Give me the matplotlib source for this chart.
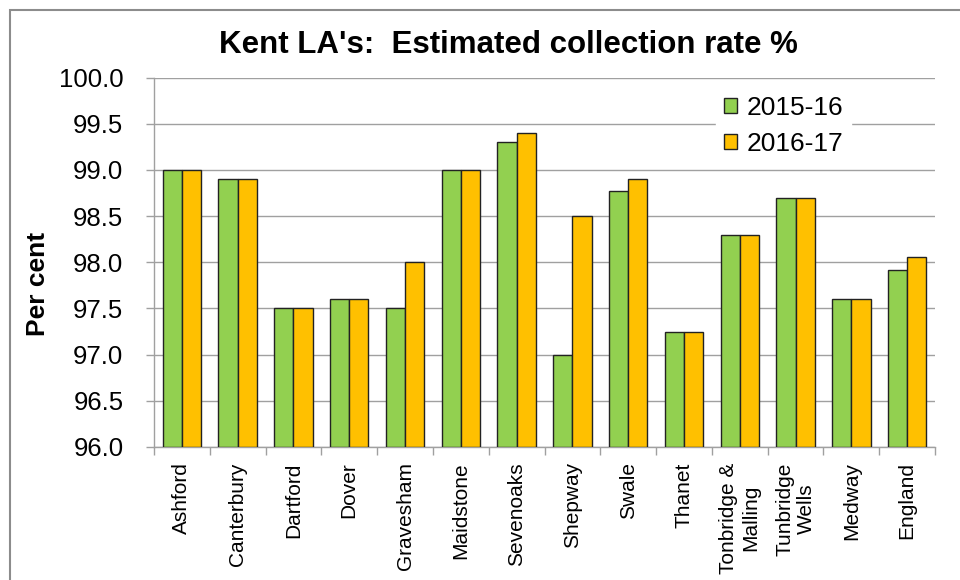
import matplotlib
matplotlib.use("Agg")
import matplotlib.pyplot as plt
import numpy as np

plt.rcParams['font.family'] = ['Liberation Sans', 'DejaVu Sans']

# data
areas = ["Ashford", "Canterbury", "Dartford", "Dover", "Gravesham", "Maidstone",
         "Sevenoaks", "Shepway", "Swale", "Thanet", "Tonbridge &\nMalling",
         "Tunbridge\nWells", "Medway", "England"]
rate_1516 = [99.0, 98.9, 97.5, 97.6, 97.5, 99.0, 99.3, 97.0, 98.77, 97.25, 98.3, 98.7, 97.6, 97.92]
rate_1617 = [99.0, 98.9, 97.5, 97.6, 98.0, 99.0, 99.4, 98.5, 98.9, 97.25, 98.3, 98.7, 97.6, 98.06]
yticks = [96.0, 96.5, 97.0, 97.5, 98.0, 98.5, 99.0, 99.5, 100.0]

green = "#92D050"
orange = "#FFC000"
grey = "#A0A0A0"

fig = plt.figure(figsize=(9.6, 5.8), dpi=100)
ax = fig.add_axes([154/960, 1-447/580, (935-154)/960, (447-77.5)/580])

# outer chart border (only top and left are visible in the original)
fig.patches.append(plt.Rectangle((10/960, -0.2), 1.5, 1.2 - 10/580, transform=fig.transFigure,
                                 fill=False, edgecolor="#8C8C8C", linewidth=1.5))

x = np.arange(len(areas))
w = 0.345
ax.bar(x - w/2, np.array(rate_1516) - 96, w, bottom=96, color=green, edgecolor="#222222",
       linewidth=1, label="2015-16", zorder=3)
ax.bar(x + w/2, np.array(rate_1617) - 96, w, bottom=96, color=orange, edgecolor="#222222",
       linewidth=1, label="2016-17", zorder=3)

ax.set_ylim(96, 100)
ax.set_xlim(-0.5, len(areas) - 0.5)
ax.set_yticks(yticks)
ax.set_yticklabels([f"{v:.1f}" for v in yticks], fontsize=18.5)
ax.yaxis.grid(True, color=grey, linewidth=1, zorder=0)
ax.set_axisbelow(True)

ax.set_xticks(x)
ax.set_xticklabels(areas, rotation=90, fontsize=15, multialignment="center")
ax.set_xticks(np.arange(-0.5, len(areas)), minor=True)
ax.tick_params(axis="x", which="major", length=0, pad=11)
ax.tick_params(axis="x", which="minor", length=6, color=grey, width=1)
ax.tick_params(axis="y", length=6, color=grey, width=1, pad=16)

for s in ["top", "right"]:
    ax.spines[s].set_visible(False)
for s in ["left", "bottom"]:
    ax.spines[s].set_color(grey)
    ax.spines[s].set_linewidth(1)

ax.set_ylabel("Per cent", fontsize=19, fontweight="bold")
ax.yaxis.set_label_coords(-0.133, 0.44)

fig.text(508/960, 1-45/580, "Kent LA's:  Estimated collection rate %", ha="center", va="center",
         fontsize=22.5, fontweight="bold")

leg = ax.legend(loc="upper left", bbox_to_anchor=(716/960, 1-88/580), bbox_transform=fig.transFigure,
                fontsize=19, frameon=True, fancybox=False, handlelength=0.5, handleheight=0.5,
                handletextpad=0.35, labelspacing=0.45, borderpad=0.3, borderaxespad=0)
leg.get_frame().set_facecolor("white")
leg.get_frame().set_edgecolor("white")
leg.get_frame().set_alpha(1)

fig.savefig("out.png", dpi=100)
